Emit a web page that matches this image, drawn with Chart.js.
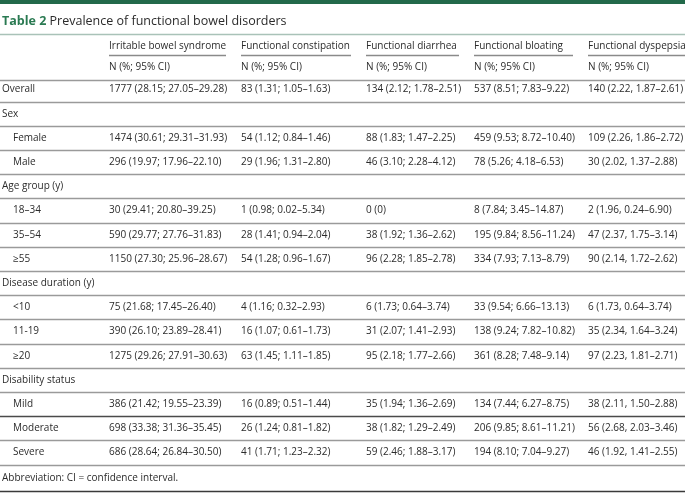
<!DOCTYPE html>
<html><head><meta charset="utf-8">
<script src="https://cdn.jsdelivr.net/npm/chart.js@4/dist/chart.umd.min.js"></script>
<style>html,body{margin:0;padding:0;background:#fff}#wrap{width:685px;height:493px;position:relative}</style>
</head><body><div id="wrap"><canvas id="c"></canvas></div>
<script>
// ---------- data ----------
const tableNumber = 'Table 2';
const tableTitle = 'Prevalence of functional bowel disorders';
const columns = ['Irritable bowel syndrome', 'Functional constipation', 'Functional diarrhea', 'Functional bloating', 'Functional dyspepsia'];
const subHeader = 'N (%; 95% CI)';
const rowLabels = ['Overall', 'Sex', 'Female', 'Male', 'Age group (y)', '18–34', '35–54', '≥55',
  'Disease duration (y)', '<10', '11-19', '≥20', 'Disability status', 'Mild', 'Moderate', 'Severe'];
const subRows = ['Female', 'Male', '18–34', '35–54', '≥55', '<10', '11-19', '≥20', 'Mild', 'Moderate', 'Severe'];
const ibs = ['1777 (28.15; 27.05–29.28)', '', '1474 (30.61; 29.31–31.93)', '296 (19.97; 17.96–22.10)', '',
  '30 (29.41; 20.80–39.25)', '590 (29.77; 27.76–31.83)', '1150 (27.30; 25.96–28.67)', '',
  '75 (21.68; 17.45–26.40)', '390 (26.10; 23.89–28.41)', '1275 (29.26; 27.91–30.63)', '',
  '386 (21.42; 19.55–23.39)', '698 (33.38; 31.36–35.45)', '686 (28.64; 26.84–30.50)'];
const constipation = ['83 (1.31; 1.05–1.63)', '', '54 (1.12; 0.84–1.46)', '29 (1.96; 1.31–2.80)', '',
  '1 (0.98; 0.02–5.34)', '28 (1.41; 0.94–2.04)', '54 (1.28; 0.96–1.67)', '',
  '4 (1.16; 0.32–2.93)', '16 (1.07; 0.61–1.73)', '63 (1.45; 1.11–1.85)', '',
  '16 (0.89; 0.51–1.44)', '26 (1.24; 0.81–1.82)', '41 (1.71; 1.23–2.32)'];
const diarrhea = ['134 (2.12; 1.78–2.51)', '', '88 (1.83; 1.47–2.25)', '46 (3.10; 2.28–4.12)', '',
  '0 (0)', '38 (1.92; 1.36–2.62)', '96 (2.28; 1.85–2.78)', '',
  '6 (1.73; 0.64–3.74)', '31 (2.07; 1.41–2.93)', '95 (2.18; 1.77–2.66)', '',
  '35 (1.94; 1.36–2.69)', '38 (1.82; 1.29–2.49)', '59 (2.46; 1.88–3.17)'];
const bloating = ['537 (8.51; 7.83–9.22)', '', '459 (9.53; 8.72–10.40)', '78 (5.26; 4.18–6.53)', '',
  '8 (7.84; 3.45–14.87)', '195 (9.84; 8.56–11.24)', '334 (7.93; 7.13–8.79)', '',
  '33 (9.54; 6.66–13.13)', '138 (9.24; 7.82–10.82)', '361 (8.28; 7.48–9.14)', '',
  '134 (7.44; 6.27–8.75)', '206 (9.85; 8.61–11.21)', '194 (8.10; 7.04–9.27)'];
const dyspepsia = ['140 (2.22, 1.87–2.61)', '', '109 (2.26, 1.86–2.72)', '30 (2.02, 1.37–2.88)', '',
  '2 (1.96, 0.24–6.90)', '47 (2.37, 1.75–3.14)', '90 (2.14, 1.72–2.62)', '',
  '6 (1.73, 0.64–3.74)', '35 (2.34, 1.64–3.24)', '97 (2.23, 1.81–2.71)', '',
  '38 (2.11, 1.50–2.88)', '56 (2.68, 2.03–3.46)', '46 (1.92, 1.41–2.55)'];
const footnote = 'Abbreviation: CI = confidence interval.';
const cellColumns = [ibs, constipation, diarrhea, bloating, dyspepsia];

// ---------- layout / style ----------
const W = 685, H = 493;
const colX = [2, 109, 241, 366, 474, 588];
const subIndent = 11;
const firstRowY = 89.5, rowPitch = 24.2;
const yMin = -firstRowY / rowPitch, yMax = yMin + H / rowPitch;
const toRow = px => (px - firstRowY) / rowPitch;
const FONT = '"Open Sans", "Noto Sans", sans-serif';
const bodySize = 10, titleSize = 12.5;
const textColor = '#2b2b2b', green = '#2a7a52', barGreen = '#22694a';
const lineGray = '#9a9a9a';

// ---------- datasets ----------
const datasets = [];
datasets.push({
  label: 'rows',
  data: rowLabels.map((r, i) => ({x: colX[0] + (subRows.includes(r) ? subIndent : 0), y: i})),
  texts: rowLabels.slice()
});
cellColumns.forEach((col, c) => {
  const pts = [], texts = [];
  col.forEach((t, i) => { if (t) { pts.push({x: colX[c + 1], y: i}); texts.push(t); } });
  datasets.push({label: columns[c], data: pts, texts});
});
datasets.push({label: 'footnote', data: [{x: colX[0], y: rowLabels.length + 0.08}], texts: [footnote]});

const tablePlugin = {
  id: 'table',
  beforeDatasetsDraw(chart) {
    const ctx = chart.ctx, xs = chart.scales.x, ys = chart.scales.y;
    const X = v => xs.getPixelForValue(v), Y = v => ys.getPixelForValue(v);
    ctx.save();
    // top green band
    ctx.fillStyle = barGreen;
    ctx.fillRect(X(0), Y(toRow(0)), X(W) - X(0), Y(toRow(4)) - Y(toRow(0)));
    // title
    ctx.textBaseline = 'middle';
    ctx.font = `bold ${titleSize}px ${FONT}`;
    ctx.fillStyle = green;
    const ty = Y(toRow(21));
    ctx.fillText(tableNumber, X(colX[0]), ty);
    const tw = ctx.measureText(tableNumber + ' ').width;
    ctx.font = `${titleSize}px ${FONT}`;
    ctx.fillStyle = textColor;
    ctx.fillText(tableTitle, X(colX[0]) + tw, ty);
    const hline = (yv, x0, x1, color, w) => {
      ctx.beginPath(); ctx.strokeStyle = color; ctx.lineWidth = w;
      const y = Math.round(Y(yv)) + 0.5;
      ctx.moveTo(X(x0), y); ctx.lineTo(X(x1), y); ctx.stroke();
    };
    // title rule
    hline(toRow(34.5), 0, W, '#a9c2b8', 1.5);
    // column headers
    ctx.font = `${bodySize}px ${FONT}`;
    ctx.fillStyle = textColor;
    columns.forEach((name, c) => {
      ctx.fillText(name, X(colX[c + 1]), Y(toRow(46)));
      const end = c + 2 < colX.length ? colX[c + 2] - 15 : W;
      hline(toRow(55), colX[c + 1], end, '#8a8a8a', 1.3);
      ctx.fillText(subHeader, X(colX[c + 1]), Y(toRow(67.5)));
    });
    // row rules
    hline(toRow(79.5), 0, W, lineGray, 1.6);
    for (let i = 0; i < rowLabels.length; i++) {
      const dark = rowLabels[i] === 'Mild';
      hline(i + 0.5, 0, W, dark ? '#4a4a4a' : lineGray, dark ? 1.3 : 1.6);
    }
    hline(toRow(491), 0, W, '#3a3a3a', 1.6);
    ctx.restore();
  },
  afterDatasetsDraw(chart) {
    const ctx = chart.ctx;
    ctx.save();
    ctx.textBaseline = 'middle';
    ctx.font = `${bodySize}px ${FONT}`;
    ctx.fillStyle = textColor;
    chart.data.datasets.forEach((ds, di) => {
      const meta = chart.getDatasetMeta(di);
      meta.data.forEach((el, i) => ctx.fillText(ds.texts[i], el.x, el.y));
    });
    ctx.restore();
  }
};

new Chart(document.getElementById('c'), {
  type: 'scatter',
  data: {datasets},
  options: {
    responsive: true, maintainAspectRatio: false, animation: false,
    layout: {padding: 0},
    elements: {point: {radius: 0, hoverRadius: 0}},
    plugins: {legend: {display: false}, tooltip: {enabled: false}},
    events: [],
    scales: {
      x: {type: 'linear', min: 0, max: W, display: false},
      y: {type: 'linear', min: yMin, max: yMax, reverse: true, display: false}
    }
  },
  plugins: [tablePlugin]
});
</script></body></html>
